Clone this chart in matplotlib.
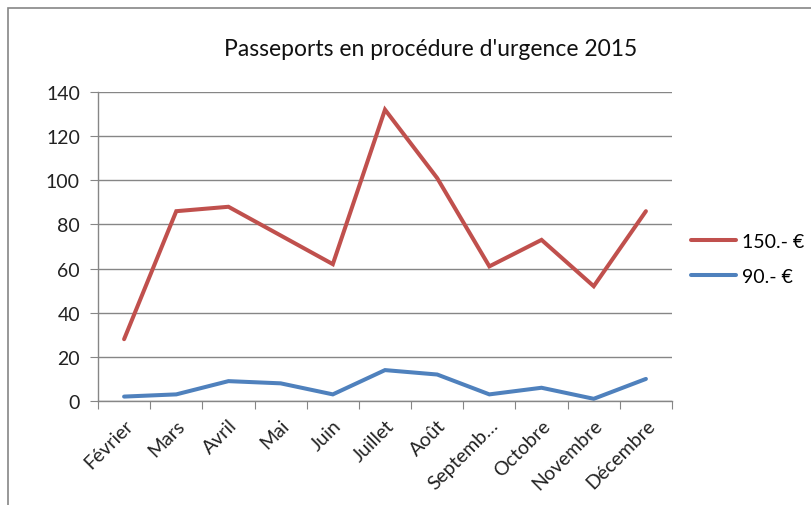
import matplotlib
matplotlib.use("Agg")
import matplotlib.pyplot as plt
from matplotlib.patches import Rectangle

months = ["Février", "Mars", "Avril", "Mai", "Juin", "Juillet", "Août",
          "Septemb…", "Octobre", "Novembre", "Décembre"]
series_150 = [28, 86, 88, 75, 62, 132, 101, 61, 73, 52, 86]
series_90 = [2, 3, 9, 8, 3, 14, 12, 3, 6, 1, 10]
y_ticks = [0, 20, 40, 60, 80, 100, 120, 140]
title = "Passeports en procédure d'urgence 2015"

plt.rcParams['font.family'] = ['Lato', 'DejaVu Sans']

W, H = 812, 506
fig = plt.figure(figsize=(W / 100, H / 100), dpi=100)
fig.patch.set_facecolor("white")

# outer chart border (partially visible)
fig.patches.append(Rectangle((8 / W, -0.1), 1.2, 1 - 9 / H + 0.1,
                             transform=fig.transFigure, fill=False,
                             edgecolor="#868686", linewidth=1.2))

ax = fig.add_axes([98 / W, 1 - 402 / H, (672 - 98) / W, (402 - 93) / H])
x = list(range(len(months)))
ax.plot(x, series_150, color="#C0504D", linewidth=2.9, label="150.- €",
        solid_capstyle="round", solid_joinstyle="miter")
ax.plot(x, series_90, color="#4F81BD", linewidth=2.9, label="90.- €",
        solid_capstyle="round", solid_joinstyle="miter")

ax.set_xlim(-0.5, len(months) - 0.5)
ax.set_ylim(0, 140)
ax.set_yticks(y_ticks)
ax.yaxis.grid(True, color="#868686", linewidth=1)
ax.set_axisbelow(True)
for s in ["top", "right"]:
    ax.spines[s].set_visible(False)
ax.spines["left"].set_color("#868686")
ax.spines["bottom"].set_color("#868686")
ax.spines["left"].set_linewidth(1)
ax.spines["bottom"].set_linewidth(1)

ax.set_xticks([i - 0.5 for i in range(len(months) + 1)])
ax.set_xticklabels([])
ax.set_xticks(x, minor=True)
ax.set_xticklabels(months, minor=True, rotation=45, ha="right",
                   rotation_mode="anchor", fontsize=14, color="#222222")
ax.tick_params(axis="x", which="minor", length=0, pad=11)
ax.tick_params(axis="x", which="major", length=6, color="#868686")
ax.tick_params(axis="y", length=6, color="#868686", labelsize=14,
               labelcolor="#222222", pad=7)

fig.text(431 / W, 1 - 50 / H, title, ha="center", va="center",
         fontsize=16.5, color="#111111")

ax.legend(loc="center left", bbox_to_anchor=(674 / W, 1 - 260 / H),
          bbox_transform=fig.transFigure, frameon=False, fontsize=14,
          handlelength=2.3, labelspacing=0.95, handletextpad=0.3)

fig.savefig("out.png", dpi=100, facecolor="white")
